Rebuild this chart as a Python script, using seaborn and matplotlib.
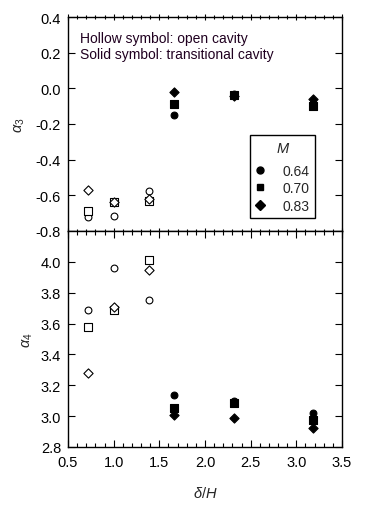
import numpy as np
import pandas as pd
import matplotlib
matplotlib.use("Agg")
import matplotlib.pyplot as plt
import seaborn as sns
from matplotlib.lines import Line2D
from matplotlib.ticker import MultipleLocator

sns.set_style("ticks")
plt.rcParams['font.family'] = ['Liberation Sans', 'DejaVu Sans']
plt.rcParams['mathtext.fontset'] = 'custom'
plt.rcParams['mathtext.it'] = 'Liberation Sans:italic'
plt.rcParams['mathtext.rm'] = 'Liberation Sans'

# data
dH = [0.72, 1.0, 1.39, 1.66, 2.32, 3.18]
M_values = ["0.64", "0.70", "0.83"]
a3_064 = [-0.72, -0.715, -0.575, -0.15, -0.03, -0.08]
a3_070 = [-0.69, -0.64, -0.63, -0.09, -0.04, -0.10]
a3_083 = [-0.57, -0.64, -0.62, -0.02, -0.045, -0.06]
a4_064 = [3.69, 3.96, 3.75, 3.135, 3.10, 3.02]
a4_070 = [3.58, 3.69, 4.01, 3.05, 3.085, 2.975]
a4_083 = [3.28, 3.71, 3.95, 3.01, 2.985, 2.92]
x_ticks = [0.5, 1.0, 1.5, 2.0, 2.5, 3.0, 3.5]
a3_ticks = [-0.8, -0.6, -0.4, -0.2, 0.0, 0.2, 0.4]
a4_ticks = [2.8, 3.0, 3.2, 3.4, 3.6, 3.8, 4.0]

rows = []
for m, a3, a4 in zip(M_values, [a3_064, a3_070, a3_083], [a4_064, a4_070, a4_083]):
    for x, y3, y4 in zip(dH, a3, a4):
        rows.append(dict(dH=x, M=m, a3=y3, a4=y4, regime="open" if x < 1.5 else "transitional"))
df = pd.DataFrame(rows)

markers = {"0.64": "o", "0.70": "s", "0.83": "D"}
sizes = {"0.64": 24, "0.70": 30, "0.83": 22}

fig = plt.figure(figsize=(3.69, 5.10), dpi=100)
L, R = 68 / 369, 342 / 369
ax1 = fig.add_axes([L, 1 - 232 / 510, R - L, (232 - 18) / 510])
ax2 = fig.add_axes([L, 1 - 448 / 510, R - L, (448 - 232) / 510])

for ax, col in [(ax1, "a3"), (ax2, "a4")]:
    for m in M_values:
        for reg, fc in [("open", "white"), ("transitional", "black")]:
            sub = df[(df.M == m) & (df.regime == reg)]
            sns.scatterplot(data=sub, x="dH", y=col, marker=markers[m], s=sizes[m],
                            color="black", edgecolor="black", linewidth=0.8,
                            ax=ax, legend=False, zorder=3)
            ax.collections[-1].set_facecolor(fc)
            ax.collections[-1].set_edgecolor("black")
    ax.set_xlim(0.5, 3.5)
    ax.set_xticks(x_ticks)
    ax.xaxis.set_minor_locator(MultipleLocator(0.1))
    ax.tick_params(which="both", direction="in", top=True, right=True, labelsize=10.5,
                   width=0.8, colors="black")
    ax.tick_params(which="major", length=5)
    ax.tick_params(which="minor", length=3)
    ax.tick_params(axis="y", which="major", pad=5)
    ax.tick_params(axis="x", which="major", pad=6)
    ax.tick_params(axis="y", which="minor", left=False, right=False)
    for s in ax.spines.values():
        s.set_linewidth(1.0)
        s.set_color("black")

ax1.set_ylim(-0.8, 0.4)
ax1.set_yticks(a3_ticks)
ax1.set_yticklabels([f"{v:.1f}" for v in a3_ticks])
ax1.tick_params(labelbottom=False)
ax1.tick_params(axis="x", which="both", direction="inout")
ax1.set_xlabel("")
ax1.set_ylabel(r"$\alpha_3$", fontsize=10.5, labelpad=6)

ax2.set_ylim(2.8, 4.2)
ax2.set_yticks(a4_ticks)
ax2.set_yticklabels([f"{v:.1f}" for v in a4_ticks])
ax2.set_xticklabels([f"{v:.1f}" for v in x_ticks])
ax2.set_xlabel(r"$\delta/H$", fontsize=10.5, labelpad=11)
ax2.set_ylabel(r"$\alpha_4$", fontsize=10.5, labelpad=4)

ax1.text(0.045, 0.9, "Hollow symbol: open cavity", transform=ax1.transAxes,
         fontsize=10, va="center", ha="left", color="#200020")
ax1.text(0.045, 0.825, "Solid symbol: transitional cavity", transform=ax1.transAxes,
         fontsize=10, va="center", ha="left", color="#200020")

handles = [Line2D([], [], linestyle="none", marker=markers[m], markersize=5 if m != "0.83" else 4.8,
                  markerfacecolor="black", markeredgecolor="black") for m in M_values]
leg = ax1.legend(handles, M_values, title="$M$", loc="upper left",
                 bbox_to_anchor=((250 - 68) / 274, (232 - 136) / 214),
                 frameon=True, fancybox=False, fontsize=10, title_fontsize=10.5,
                 handlelength=0.6, handletextpad=1.35, borderpad=0.4, labelspacing=0.26,
                 borderaxespad=0)
leg.get_frame().set_edgecolor("black")
leg.get_frame().set_linewidth(1.0)
leg.get_frame().set_alpha(1)
leg._legend_box.align = "center"
leg._legend_box.sep = 6.5

fig.savefig("out.png", dpi=100)
